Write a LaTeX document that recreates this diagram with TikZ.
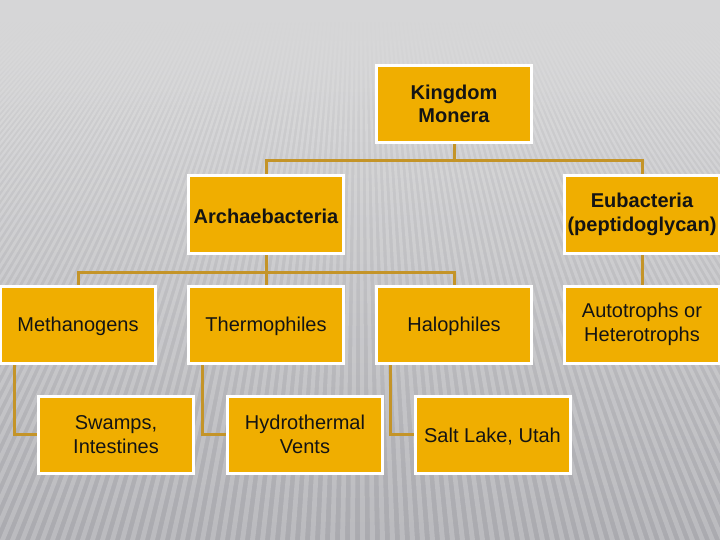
\documentclass[tikz,border=0pt]{standalone}
\usepackage{fontspec}
\setmainfont{Liberation Sans}
\usetikzlibrary{fadings}
\pgfdeclarelayer{bglayer}
\pgfdeclarelayer{linelayer}
\pgfsetlayers{bglayer,linelayer,main}
\definecolor{boxfill}{RGB}{240,174,0}
\definecolor{linegold}{RGB}{196,148,40}
\definecolor{txt}{RGB}{20,20,20}
\definecolor{bgtop}{RGB}{214,214,215}
\definecolor{bgmid}{RGB}{199,199,201}
\definecolor{bgbot}{RGB}{170,170,175}
\tikzset{
  box/.style={draw=white, line width=3pt, fill=boxfill, minimum width=155pt,
    minimum height=77pt, align=center, text=txt, inner sep=1pt,
    font=\fontsize{20}{23.5}\selectfont,
    execute at begin node={\rule{0pt}{18.5pt}}},
  boldbox/.style={box, font=\fontsize{20}{23.5}\selectfont\bfseries},
  conn/.style={draw=linegold, line width=3pt},
  stripe/.style={fill=white, opacity=0.2}
}
\begin{document}
\begin{tikzpicture}[x=1pt,y=-1pt]
\useasboundingbox (0,0) rectangle (720,540);
\begin{pgfonlayer}{bglayer}
  \shade[top color=bgtop, middle color=bgmid, bottom color=bgbot] (0,0) rectangle (720,540);
  \begin{scope}
    \clip (0,0) rectangle (720,540);
    \foreach \x in {-620,-610,...,1340} {
      \fill[stripe] (360,-320) -- (\x,540) -- (\x+5,540) -- cycle;
    }
    \fill[bgtop] (0,0) rectangle (720,22);
    \fill[bgtop, path fading=south] (0,21) rectangle (720,120);
  \end{scope}
\end{pgfonlayer}

\node[boldbox] (km) at (454,104) {Kingdom\\Monera};
\node[boldbox] (arch) at (266,214.5) {Archaebacteria};
\node[boldbox] (eub) at (642,214.5) {Eubacteria\\(peptidoglycan)};
\node[box] (meth) at (78,324.5) {Methanogens};
\node[box] (thermo) at (266,324.5) {Thermophiles};
\node[box] (halo) at (454,324.5) {Halophiles};
\node[box] (auto) at (642,324.5) {Autotrophs or\\Heterotrophs};
\node[box] (swamp) at (116,434.5) {Swamps,\\Intestines};
\node[box] (hydro) at (305,434.5) {Hydrothermal\\Vents};
\node[box] (salt) at (492.5,434.5) {Salt Lake, Utah};

\begin{pgfonlayer}{linelayer}
  \draw[conn] (km.south) -- ++(0,17) coordinate (j1) -| (arch.north);
  \draw[conn] (j1) -| (eub.north);
  \draw[conn] (arch.south) -- ++(0,17.5) coordinate (j2) -| (meth.north);
  \draw[conn] (j2) -| (thermo.north);
  \draw[conn] (j2) -| (halo.north);
  \draw[conn] (eub.south) -- (auto.north);
  \draw[conn] ([xshift=15.5pt]meth.south west) |- (swamp.west);
  \draw[conn] ([xshift=15.5pt]thermo.south west) |- (hydro.west);
  \draw[conn] ([xshift=15.5pt]halo.south west) |- (salt.west);
\end{pgfonlayer}
\end{tikzpicture}
\end{document}
